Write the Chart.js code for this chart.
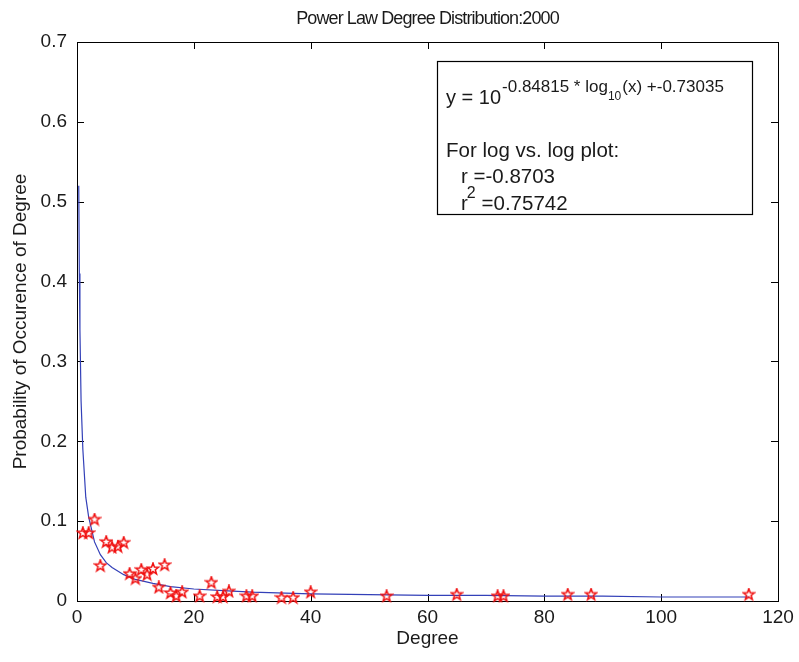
<!DOCTYPE html>
<html>
<head>
<meta charset="utf-8">
<script src="https://cdn.jsdelivr.net/npm/chart.js@4.4.1/dist/chart.umd.min.js"></script>
<style>
  html, body { margin: 0; padding: 0; background: #fff; }
</style>
</head>
<body>
<canvas id="degree-chart" width="799" height="662"></canvas>
<script>
// Observed degree distribution (red stars)
var degrees = [1, 2, 3, 4, 5, 6, 7, 8, 9, 10, 11, 12, 13, 14, 15, 16, 17, 18, 21, 23, 24, 25, 26, 29, 30, 35, 37, 40, 53, 65, 72, 73, 84, 88, 115];
var probabilities = [0.085, 0.085, 0.102, 0.044, 0.074, 0.067, 0.068, 0.073, 0.034, 0.028, 0.039, 0.033, 0.040, 0.017, 0.045, 0.010, 0.006, 0.011, 0.006, 0.023, 0.005, 0.005, 0.012, 0.006, 0.006, 0.004, 0.004, 0.011, 0.006, 0.008, 0.006, 0.006, 0.008, 0.008, 0.008];

// Fitted power-law curve (blue line)
var fitX = [0.3, 0.4, 0.5, 0.7, 1, 1.5, 2, 3, 4, 5, 6, 8, 10, 13, 16, 20, 25, 30, 40, 50, 60, 70, 80, 90, 100, 110, 115];
var fitY = [0.52, 0.41, 0.34, 0.25, 0.19, 0.13, 0.105, 0.074, 0.058, 0.048, 0.042, 0.033, 0.027, 0.022, 0.018, 0.015, 0.013, 0.011, 0.009, 0.008, 0.007, 0.007, 0.006, 0.006, 0.005, 0.005, 0.005];

// Axis ticks
var xTicks = [0, 20, 40, 60, 80, 100, 120];
var yTicks = [0, 0.1, 0.2, 0.3, 0.4, 0.5, 0.6, 0.7];

var FONT = '"Liberation Sans", Arial, Helvetica, sans-serif';

// MATLAB style pentagram marker
function makeStar(size, color) {
    var c = document.createElement('canvas');
    c.width = c.height = size;
    var g = c.getContext('2d');
    var cx = size / 2, cy = size / 2, R = size / 2 - 1, r = R * 0.4;
    g.beginPath();
    for (var i = 0; i < 10; i++) {
        var ang = -Math.PI / 2 + i * Math.PI / 5;
        var rad = i % 2 === 0 ? R : r;
        g.lineTo(cx + rad * Math.cos(ang), cy + rad * Math.sin(ang));
    }
    g.closePath();
    g.strokeStyle = color;
    g.lineWidth = 1.5;
    g.stroke();
    return c;
}

// Box around the axes with inward ticks, plus the title
var boxTicks = {
    id: 'boxTicks',
    beforeDatasetsDraw: function (chart) {
        var ctx = chart.ctx, a = chart.chartArea;
        var xs = chart.scales.x, ys = chart.scales.y, len = 7;
        ctx.save();
        ctx.strokeStyle = '#000';
        ctx.lineWidth = 1;
        ctx.strokeRect(Math.round(a.left) + 0.5, Math.round(a.top) + 0.5,
            Math.round(a.right - a.left), Math.round(a.bottom - a.top));
        ctx.beginPath();
        xTicks.forEach(function (v) {
            var px = Math.round(xs.getPixelForValue(v)) + 0.5;
            ctx.moveTo(px, a.bottom); ctx.lineTo(px, a.bottom - len);
            ctx.moveTo(px, a.top); ctx.lineTo(px, a.top + len);
        });
        yTicks.forEach(function (v) {
            var py = Math.round(ys.getPixelForValue(v)) + 0.5;
            ctx.moveTo(a.left, py); ctx.lineTo(a.left + len, py);
            ctx.moveTo(a.right, py); ctx.lineTo(a.right - len, py);
        });
        ctx.stroke();

        // title
        ctx.fillStyle = '#1a1a1a';
        ctx.font = '18px ' + FONT;
        if ('letterSpacing' in ctx) ctx.letterSpacing = '-0.9px';
        ctx.textAlign = 'center';
        ctx.textBaseline = 'alphabetic';
        ctx.fillText('Power Law Degree Distribution:2000', (a.left + a.right) / 2, 24);
        ctx.restore();
    }
};

// Fit equation text box
var fitBox = {
    id: 'fitBox',
    afterDatasetsDraw: function (chart) {
        var ctx = chart.ctx;
        ctx.save();
        ctx.fillStyle = '#fff';
        ctx.fillRect(437, 61, 315, 153);
        ctx.strokeStyle = '#000';
        ctx.lineWidth = 1.2;
        ctx.strokeRect(437.5, 61.5, 315, 153);

        ctx.fillStyle = '#1a1a1a';
        ctx.textAlign = 'left';
        ctx.textBaseline = 'alphabetic';
        var x = 446, base = 104;
        ctx.font = '20px ' + FONT;
        ctx.fillText('y = 10', x, base);
        x += ctx.measureText('y = 10').width + 1;
        ctx.font = '17px ' + FONT;
        ctx.fillText('-0.84815 * log', x, base - 12);
        x += ctx.measureText('-0.84815 * log').width;
        ctx.font = '12px ' + FONT;
        ctx.fillText('10', x, base - 4);
        x += ctx.measureText('10').width + 1;
        ctx.font = '17px ' + FONT;
        ctx.fillText('(x) +-0.73035', x, base - 12);

        ctx.font = '20.5px ' + FONT;
        ctx.fillText('For log vs. log plot:', 446, 157);
        ctx.fillText('r =-0.8703', 461, 183);
        ctx.fillText('r', 461, 210);
        var rw = ctx.measureText('r').width;
        ctx.font = '16px ' + FONT;
        ctx.fillText('2', 461 + rw - 1, 198);
        ctx.font = '20.5px ' + FONT;
        ctx.fillText(' =0.75742', 461 + rw + 8, 210);
        ctx.restore();
    }
};

var starData = degrees.map(function (d, i) { return { x: d, y: probabilities[i] }; });
var fitData = fitX.map(function (d, i) { return { x: d, y: fitY[i] }; });

var ctx = document.getElementById('degree-chart');

var config = {
    type: 'scatter',
    data: {
        datasets: [{
            label: 'Degree distribution',
            data: starData,
            pointStyle: makeStar(14, '#f01010'),
            pointRadius: 7,
            clip: false
        }, {
            label: 'Power law fit',
            data: fitData,
            showLine: true,
            borderColor: '#3340b8',
            borderWidth: 1.2,
            pointRadius: 0,
            tension: 0
        }]
    },
    options: {
        responsive: false,
        animation: false,
        layout: { padding: { top: 42, right: 21, left: 0, bottom: 0 } },
        plugins: {
            legend: { display: false },
            tooltip: { enabled: false }
        },
        scales: {
            x: {
                type: 'linear',
                min: 0,
                max: 120,
                afterFit: function (s) { s.height = 61; },
                afterBuildTicks: function (s) { s.ticks = xTicks.map(function (v) { return { value: v }; }); },
                grid: { display: false, drawTicks: false },
                border: { display: false },
                ticks: { padding: 5, color: '#1a1a1a', font: { family: FONT, size: 19 }, maxRotation: 0 },
                title: { display: true, text: 'Degree', color: '#1a1a1a', font: { family: FONT, size: 19 }, padding: { top: 0, bottom: 12 } }
            },
            y: {
                type: 'linear',
                min: 0,
                max: 0.7,
                afterFit: function (s) { s.width = 77; },
                afterBuildTicks: function (s) { s.ticks = yTicks.map(function (v) { return { value: v }; }); },
                grid: { display: false, drawTicks: false },
                border: { display: false },
                ticks: {
                    padding: 10, color: '#1a1a1a', font: { family: FONT, size: 19 },
                    callback: function (v) { return v === 0 ? '0' : v.toFixed(1); }
                },
                title: { display: true, text: 'Probability of Occurence of Degree', color: '#1a1a1a', font: { family: FONT, size: 19 }, padding: { top: 9, bottom: 0 } }
            }
        }
    },
    plugins: [boxTicks, fitBox]
};

var degreeChart = new Chart(ctx, config);
</script>
</body>
</html>
